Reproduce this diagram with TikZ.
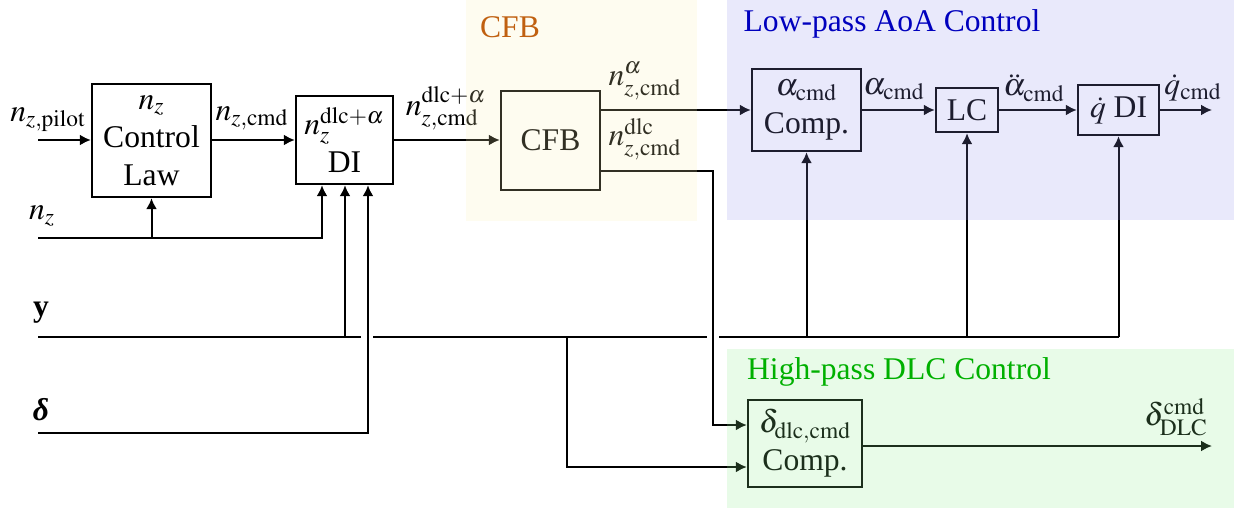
\documentclass[tikz,border=0pt]{standalone}
\usepackage{mathptmx}
\usepackage{fontspec}
\setmainfont{Liberation Serif}
\usetikzlibrary{arrows.meta}
\definecolor{cfbc}{RGB}{250,240,180}
\definecolor{lowc}{RGB}{145,145,235}
\definecolor{highc}{RGB}{140,235,140}
\definecolor{cfbt}{RGB}{192,96,16}
\definecolor{lowt}{RGB}{0,0,190}
\definecolor{hight}{RGB}{0,176,0}
\begin{document}
\begin{tikzpicture}[x=0.5pt,y=-0.5pt,
  font=\fontsize{15.8}{19}\selectfont,
  box/.style={draw, line width=1.2pt, inner sep=0pt, align=center},
  arr/.style={line width=1pt, -{Latex[length=5.5pt,width=5.5pt]}},
  ln/.style={line width=1pt},
  lbl/.style={inner sep=0pt},
  region/.style={opacity=0.2}]
\useasboundingbox (0,0) rectangle (1234,508);

% boxes
\node[box, minimum width=59.5pt, minimum height=56.5pt] (cl) at (151.5,140.5) {$n_z$\\Control\\Law};
\node[box, minimum width=48.5pt, minimum height=44pt] (di) at (344.5,140) {$n_z^{\mathrm{dlc}+\alpha}$\\DI};
\node[box, minimum width=49.5pt, minimum height=49.5pt] (cfb) at (550.5,140.5) {CFB};
\node[box, minimum width=54.5pt, minimum height=41pt] (ac) at (806.5,110) {$\alpha_{\mathrm{cmd}}$\\Comp.};
\node[box, minimum width=31pt, minimum height=22pt] (lc) at (967,110) {LC};
\node[box, minimum width=40.5pt, minimum height=25pt] (qdi) at (1118.5,110) {$\dot q$ DI};
\node[box, minimum width=57pt, minimum height=43.5pt] (dc) at (805,443.5) {$\delta_{\mathrm{dlc,cmd}}$\\Comp.};

% coordinates for free ends
\coordinate (pin) at (38,140);
\coordinate (nzin) at (38,238);
\coordinate (yin) at (38,337);
\coordinate (din) at (38,433);
\coordinate (c1) at (713,171);
\coordinate (br) at (567,337);
\coordinate (qout) at (1212,110);
\coordinate (dout) at (1212,446);

% connectors
\draw[arr] (pin) -- (pin -| cl.west);
\draw[arr] (cl.east |- pin) -- (di.west |- pin);
\draw[arr] (di.east |- pin) -- (cfb.west |- pin);
\draw[arr] (cfb.east |- ac) -- (ac.west);
\draw[arr] (ac.east) -- (lc.west);
\draw[arr] (lc.east) -- (qdi.west);
\draw[arr] (qdi.east) -- (qout);
\draw[arr] (cfb.east |- c1) -- (c1) |- ([yshift=9.25pt]dc.west);
\draw[arr] (nzin) -| ([xshift=-11.25pt]di.south);
\draw[arr] (cl.south |- nzin) -- (cl.south);
\draw[arr] (din) -| ([xshift=11.75pt]di.south);
\draw[ln] (yin) -- (361,337) (373,337) -- (707,337) (719,337) -- (qdi.south |- yin);
\draw[arr] ([xshift=0.25pt]di.south |- yin) -- ([xshift=0.25pt]di.south);
\draw[arr] (ac.south |- yin) -- (ac.south);
\draw[arr] (lc.south |- yin) -- (lc.south);
\draw[arr] (qdi.south |- yin) -- (qdi.south);
\draw[arr] (br) |- ([yshift=-11.75pt]dc.west);
\draw[arr] (dc.east |- dout) -- (dout);

% labels
\node[lbl] (lpilot) at (48,120) {$n_{z,\mathrm{pilot}}$};
\node[lbl] (lzcmd) at (252,118) {$n_{z,\mathrm{cmd}}$};
\node[lbl] (lnz) at (42,216) {$n_z$};
\node[lbl] (ly) at (41,313) {\textbf{y}};
\node[lbl] (ld) at (41,410) {\textbf{\textit{δ}}};
\node[lbl] (ldlca) at (446,108) {$n_{z,\mathrm{cmd}}^{\mathrm{dlc}+\alpha}$};
\node[lbl] (la) at (645,81) {$n_{z,\mathrm{cmd}}^{\alpha}$};
\node[lbl] (ldlc) at (645,139) {$n_{z,\mathrm{cmd}}^{\mathrm{dlc}}$};
\node[lbl] (lacmd) at (894,89) {$\alpha_{\mathrm{cmd}}$};
\node[lbl] (laddot) at (1034,88) {$\ddot\alpha_{\mathrm{cmd}}$};
\node[lbl] (lqdot) at (1193,88) {$\dot q_{\mathrm{cmd}}$};
\node[lbl] (ldelta) at (1176,417) {$\delta_{\mathrm{DLC}}^{\mathrm{cmd}}$};

% region overlays
\fill[cfbc, region] (466,0) rectangle (697,221);
\fill[lowc, region] (727,0) rectangle (1234,220);
\fill[highc, region] (727,349) rectangle (1234,508);

% region titles
\node[lbl, text=cfbt] (tcfb) at (510,27) {CFB};
\node[lbl, text=lowt] (tlow) at (892,24) {Low-pass AoA Control};
\node[lbl, text=hight] (thigh) at (899,372) {High-pass DLC Control};
\end{tikzpicture}
\end{document}
